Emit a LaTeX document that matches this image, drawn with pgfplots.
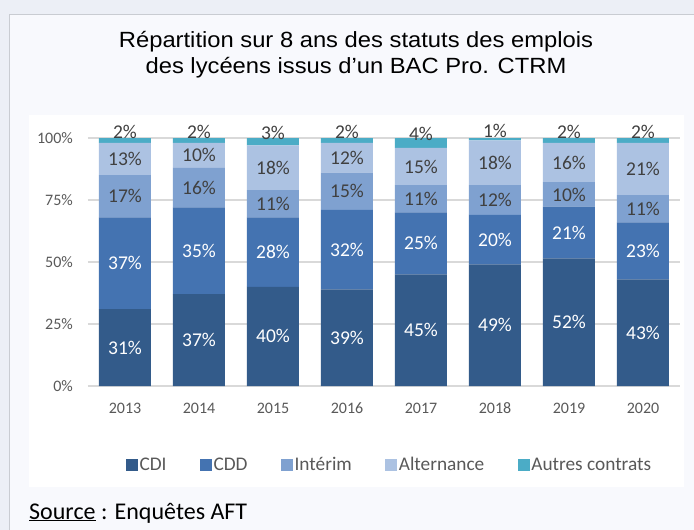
\documentclass[border=0pt]{standalone}
\usepackage{fontspec}
\setmainfont{Carlito}
\newfontfamily\arialfont{Liberation Sans}
\usepackage{pgfplots}
\usepackage{pgfplotstable}
\pgfplotsset{compat=1.18}
\definecolor{cdi}{HTML}{335B8A}
\definecolor{cdd}{HTML}{4473B1}
\definecolor{int}{HTML}{7FA1D0}
\definecolor{alt}{HTML}{ACC2E2}
\definecolor{aut}{HTML}{4BACC6}
\definecolor{outerbg}{HTML}{ECEFF6}
\definecolor{panel}{HTML}{F8F9FD}
\definecolor{border}{HTML}{C9CCD2}
\definecolor{gridc}{HTML}{D9D9D9}
\definecolor{tickc}{HTML}{595959}
\definecolor{labc}{HTML}{404040}
\pgfplotstableread{
x cdi cdd int alt aut lcdi lcdd lint lalt laut
0 31 37 17 13 2 31 37 17 13 2
1 37 35 16 10 2 37 35 16 10 2
2 40 28 11 18 3 40 28 11 18 3
3 39 32 15 12 2 39 32 15 12 2
4 45 25 11 15 4 45 25 11 15 4
5 49 20 12 18 1 49 20 12 18 1
6 51.49 20.79 9.90 15.84 1.98 52 21 10 16 2
7 43 23 11 21 2 43 23 11 21 2
}\data
\pgfplotsset{
  midlabel/.style={
    every node near coord/.style={anchor=center, text=#1,
      font=\fontsize{19.5}{23}\selectfont}
  }
}
\begin{document}
\begin{tikzpicture}[x=1pt,y=1pt]
\useasboundingbox (0,0) rectangle (694,-530);
\fill[outerbg] (0,0) rectangle (694,-530);
\filldraw[fill=panel, draw=border, line width=1pt] (9,-14) rectangle (720,-560);
\fill[white] (29,-115) rectangle (684,-487);
\node[anchor=base, inner sep=0pt, font=\arialfont\fontsize{22}{26}\selectfont] at (356,-47)
  {\scalebox{1.08}[1]{Répartition sur 8 ans des statuts des emplois}};
\node[anchor=base, inner sep=0pt, font=\arialfont\fontsize{22}{26}\selectfont] at (356,-73)
  {\scalebox{1.08}[1]{des lycéens issus d’un BAC Pro. CTRM}};
\node[anchor=base west, inner sep=0pt, font=\fontsize{24}{28}\selectfont] at (29,-519)
  {\underline{Source} : Enquêtes AFT};
\begin{axis}[
  at={(88pt,-386pt)}, anchor=south west,
  scale only axis, width=592pt, height=248pt,
  xmin=-0.5, xmax=7.5, ymin=0, ymax=100,
  ybar stacked, bar width=52pt,
  axis lines*=left, axis line style={draw=none},
  ymajorgrids, grid style={draw=gridc, line width=1.2pt},
  xtick={0,...,7}, xticklabels={2013,2014,2015,2016,2017,2018,2019,2020},
  ytick={0,25,50,75,100}, yticklabels={0\%,25\%,50\%,75\%,100\%},
  major tick length=0pt,
  tick label style={font=\fontsize{16}{19}\selectfont, text=tickc},
  xticklabel style={anchor=base, yshift=-27pt},
  yticklabel style={anchor=east, inner sep=0pt, xshift=-15pt},
  clip=false,
  point meta=explicit symbolic,
  nodes near coords={\pgfplotspointmeta\%},
  legend image code/.code={\fill[#1] (0pt,-6pt) rectangle (12pt,6pt);},
  legend style={at={(0.509,-0.3185)}, anchor=center, draw=none, fill=none,
    legend columns=5, font=\fontsize{19.3}{23}\selectfont, text=tickc,
    nodes={inner xsep=1.5pt},
    /tikz/every even column/.append style={column sep=32pt}},
]
\addplot[fill=cdi, draw=none, midlabel=white] table[x=x, y=cdi, meta=lcdi] {\data};
\addplot[fill=cdd, draw=none, midlabel=white] table[x=x, y=cdd, meta=lcdd] {\data};
\addplot[fill=int, draw=none, midlabel=labc] table[x=x, y=int, meta=lint] {\data};
\addplot[fill=alt, draw=none, midlabel=labc] table[x=x, y=alt, meta=lalt] {\data};
\addplot[fill=aut, draw=none, every node near coord/.style={anchor=base, yshift=2pt, text=labc, inner sep=0pt, font=\fontsize{19.5}{23}\selectfont}] table[x=x, y=aut, meta=laut] {\data};
\legend{CDI, CDD, Intérim, Alternance, Autres contrats}
\end{axis}
\end{tikzpicture}
\end{document}
